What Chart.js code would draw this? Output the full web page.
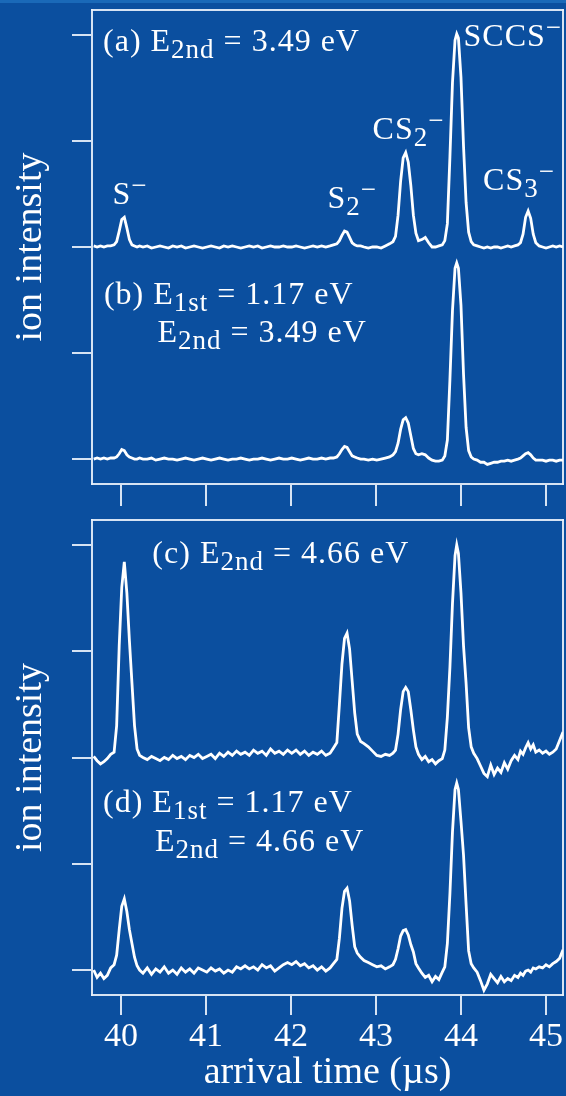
<!DOCTYPE html>
<html>
<head>
<meta charset="utf-8">
<script src="https://cdn.jsdelivr.net/npm/chart.js@4.4.0/dist/chart.umd.min.js"></script>
<style>
  html, body { margin: 0; padding: 0; }
  body { width: 566px; height: 1096px; background: #0b4f9f; position: relative; overflow: hidden; }
  #strip { position: absolute; left: 0; top: 0; width: 566px; height: 3px; background: #1a69b8; }
  canvas { position: absolute; left: 0; }
  #topPanel { top: 0; }
  #bottomPanel { top: 510px; }
</style>
</head>
<body>
<div id="strip"></div>
<canvas id="topPanel" width="566" height="512"></canvas>
<canvas id="bottomPanel" width="566" height="586"></canvas>
<script>
// arrival time grid (µs), denser around the peaks
const arrivalTime = [
  39.68, 39.72, 39.76, 39.80, 39.84, 39.88,
  39.92, 39.95, 39.98, 40.01, 40.04, 40.07, 40.10, 40.13, 40.16, 40.19, 40.22,
  40.26, 40.31, 40.36, 40.41, 40.46, 40.51, 40.56, 40.61, 40.66, 40.71, 40.76, 40.81, 40.86, 40.91, 40.96,
  41.01, 41.06, 41.11, 41.16, 41.21, 41.26, 41.31, 41.36, 41.41, 41.46, 41.51, 41.56, 41.61, 41.66, 41.71, 41.76, 41.81, 41.86, 41.91, 41.96,
  42.01, 42.06, 42.11, 42.16, 42.21, 42.26, 42.31, 42.36, 42.41, 42.46, 42.50,
  42.54, 42.57, 42.60, 42.63, 42.66, 42.69, 42.72, 42.75, 42.78, 42.82, 42.86, 42.91, 42.96, 43.01, 43.06, 43.11, 43.16, 43.20,
  43.23, 43.26, 43.29, 43.32, 43.35, 43.38, 43.41, 43.44, 43.47, 43.50,
  43.54, 43.58, 43.62, 43.66, 43.70, 43.74, 43.78, 43.81,
  43.84, 43.87, 43.90, 43.93, 43.95, 43.97, 44.00, 44.03, 44.06, 44.09, 44.12, 44.15,
  44.19, 44.23, 44.27, 44.31, 44.35, 44.39, 44.43, 44.47, 44.51, 44.55, 44.59, 44.63, 44.67,
  44.70, 44.73, 44.76, 44.79, 44.82, 44.85, 44.88, 44.92,
  44.96, 45.00, 45.04, 45.08, 45.12, 45.16, 45.20
]

// (a) E2nd = 3.49 eV
const ionA = [
  0.01, 0.00, 0.01, 0.00, 0.01, 0.01,
  0.02, 0.05, 0.15, 0.26, 0.28, 0.18, 0.07, 0.02, 0.01, 0.00, 0.01,
  0.00, 0.01, -0.01, 0.00, 0.01, 0.00, -0.01, 0.01, 0.00, 0.01, -0.01, 0.00, 0.01, 0.00, -0.01,
  0.00, 0.01, 0.00, -0.01, 0.01, 0.00, 0.01, 0.00, -0.01, 0.00, 0.01, 0.00, 0.01, -0.01, 0.00, 0.01, 0.00, 0.00, 0.01, 0.00,
  0.00, 0.01, 0.00, -0.01, 0.00, 0.01, 0.00, 0.01, 0.00, 0.01, 0.02,
  0.03, 0.06, 0.11, 0.15, 0.14, 0.09, 0.04, 0.02, 0.01, 0.01, 0.00, -0.01, 0.00, 0.00, -0.01, 0.01, 0.03, 0.05,
  0.10, 0.30, 0.62, 0.84, 0.89, 0.80, 0.58, 0.30, 0.13, 0.06,
  0.07, 0.09, 0.04, 0.00, 0.00, 0.01, 0.02, 0.06,
  0.22, 0.85, 1.55, 1.95, 2.01, 1.97, 1.60, 0.95, 0.42, 0.14, 0.05, 0.02,
  0.01, 0.00, -0.01, 0.00, -0.01, 0.00, 0.00, -0.01, 0.00, 0.01, 0.00, 0.01, 0.02,
  0.04, 0.12, 0.28, 0.34, 0.27, 0.12, 0.04, 0.01,
  0.00, -0.01, 0.00, 0.01, 0.00, 0.01, 0.00
]

// (b) E1st = 1.17 eV, E2nd = 3.49 eV
const ionB = [
  0.00, 0.01, 0.00, 0.01, 0.00, 0.01,
  0.01, 0.02, 0.05, 0.09, 0.08, 0.04, 0.02, 0.01, 0.00, 0.00, 0.01,
  0.00, 0.00, 0.01, -0.01, 0.00, 0.01, 0.00, 0.00, -0.01, 0.00, 0.01, 0.00, -0.01, 0.00, 0.01,
  0.00, -0.01, 0.00, 0.01, 0.00, -0.01, 0.00, 0.00, 0.01, 0.00, -0.01, 0.00, 0.00, 0.01, 0.00, -0.01, 0.00, 0.01, 0.00, 0.00,
  0.01, 0.00, -0.01, 0.00, 0.01, 0.00, 0.00, 0.01, 0.00, 0.01, 0.01,
  0.02, 0.05, 0.09, 0.12, 0.11, 0.07, 0.03, 0.02, 0.01, 0.00, 0.00, -0.01, 0.00, -0.01, 0.00, 0.01, 0.02, 0.04,
  0.07, 0.15, 0.28, 0.37, 0.39, 0.34, 0.22, 0.10, 0.05, 0.04,
  0.05, 0.04, 0.01, -0.01, -0.02, -0.02, -0.01, 0.03,
  0.18, 0.75, 1.40, 1.80, 1.85, 1.80, 1.45, 0.80, 0.30, 0.08, 0.02, 0.00,
  -0.01, -0.03, -0.03, -0.05, -0.04, -0.03, -0.03, -0.02, -0.02, -0.01, -0.02, -0.01, 0.00,
  0.01, 0.03, 0.05, 0.06, 0.04, 0.01, -0.01, -0.01,
  -0.01, -0.02, -0.01, -0.01, -0.02, -0.01, -0.01
]

// (c) E2nd = 4.66 eV
const ionC = [
  0.01, -0.03, -0.06, -0.04, -0.01, 0.03,
  0.05, 0.30, 1.05, 1.60, 1.84, 1.55, 1.10, 0.70, 0.30, 0.08, 0.02,
  0.00, -0.02, 0.01, -0.01, -0.03, 0.00, -0.02, 0.02, -0.01, 0.01, -0.02, 0.02, 0.00, 0.03, -0.01,
  0.01, 0.03, -0.01, 0.04, 0.01, 0.05, 0.02, 0.06, 0.03, 0.05, 0.02, 0.07, 0.04, 0.06, 0.02, 0.08, 0.04, 0.06, 0.03, 0.07,
  0.04, 0.07, 0.03, 0.06, 0.02, 0.05, 0.03, 0.06, 0.02, 0.04, 0.09,
  0.14, 0.50, 0.88, 1.12, 1.17, 1.02, 0.72, 0.42, 0.22, 0.15, 0.13, 0.10, 0.06, 0.02, 0.01, 0.03, 0.02, 0.04,
  0.07, 0.22, 0.45, 0.62, 0.66, 0.62, 0.45, 0.26, 0.10, 0.03,
  -0.02, 0.01, -0.04, -0.02, -0.06, -0.03, -0.01, 0.07,
  0.38, 0.85, 1.45, 1.90, 2.00, 1.92, 1.55, 1.05, 0.70, 0.28, 0.10, 0.04,
  -0.01, -0.08, -0.15, -0.18, -0.07, -0.16, -0.10, -0.14, -0.05, -0.11, -0.03, 0.02, -0.02,
  0.06, 0.03, 0.09, 0.14, 0.08, 0.12, 0.05, 0.07,
  0.04, 0.06, 0.03, 0.05, 0.08, 0.16, 0.24
]

// (d) E1st = 1.17 eV, E2nd = 4.66 eV
const ionD = [
  0.00, -0.07, -0.03, -0.08, -0.05, 0.02,
  0.05, 0.14, 0.38, 0.60, 0.67, 0.55, 0.38, 0.25, 0.12, 0.04, 0.00,
  -0.03, 0.02, -0.04, 0.01, -0.02, 0.03, -0.03, 0.00, -0.04, 0.02, -0.02, 0.01, -0.03, 0.02, 0.00,
  -0.02, 0.02, -0.01, 0.01, -0.03, 0.00, -0.02, 0.03, 0.01, 0.04, 0.01, 0.03, 0.00, 0.05, 0.02, 0.04, -0.01, 0.02, 0.05, 0.07,
  0.05, 0.08, 0.04, 0.06, 0.02, 0.04, 0.00, 0.03, -0.01, 0.02, 0.06,
  0.10, 0.30, 0.58, 0.74, 0.77, 0.65, 0.42, 0.22, 0.16, 0.12, 0.09, 0.07, 0.05, 0.03, 0.04, 0.01, 0.03, 0.05,
  0.10, 0.20, 0.32, 0.37, 0.38, 0.33, 0.24, 0.17, 0.06, 0.02,
  -0.03, -0.07, -0.05, -0.11, -0.06, -0.09, -0.02, 0.03,
  0.25, 0.72, 1.30, 1.70, 1.76, 1.70, 1.40, 1.08, 0.62, 0.18, 0.06, 0.02,
  -0.02, -0.10, -0.19, -0.13, -0.04, -0.08, -0.12, -0.06, -0.11, -0.08, -0.10, -0.05, -0.07,
  -0.03, -0.05, -0.01, 0.00, -0.02, 0.02, 0.01, 0.03,
  0.02, 0.05, 0.03, 0.06, 0.08, 0.11, 0.19
]

// vertical offset of the upper trace in each panel (tick units)
const upperOffset = 2

const X_MIN = 39.66, X_MAX = 45.2
const Y_MIN = -0.235, Y_MAX = 4.235

const SERIF = '"Liberation Serif", "Times New Roman", serif'
const FRAME = 'rgba(232,240,250,0.92)'

// text annotations, anchored in data units (x = left start, y = baseline)
const topNotes = [
  { x: 39.79, y: 3.85, text: '(a) E_{2nd} = 3.49 eV' },
  { x: 39.90, y: 2.41, text: 'S^−' },
  { x: 42.43, y: 2.365, text: 'S_2^−' },
  { x: 42.96, y: 3.02, text: 'CS_2^−' },
  { x: 44.03, y: 3.90, text: 'SCCS^−' },
  { x: 44.26, y: 2.535, text: 'CS_3^−' },
  { x: 39.80, y: 1.46, text: '(b) E_{1st} = 1.17 eV' },
  { x: 40.43, y: 1.10, text: 'E_{2nd} = 3.49 eV' }
]
const bottomNotes = [
  { x: 40.37, y: 3.83, text: '(c) E_{2nd} = 4.66 eV' },
  { x: 39.79, y: 1.49, text: '(d) E_{1st} = 1.17 eV' },
  { x: 40.40, y: 1.12, text: 'E_{2nd} = 4.66 eV' }
]

// split "E_{2nd}^−" style markup into main / sub / sup pieces
function parseMarkup(str) {
  const out = []
  let i = 0, buf = ''
  while (i < str.length) {
    const c = str[i]
    if (c === '_' || c === '^') {
      if (buf) { out.push({ kind: 'main', text: buf }); buf = '' }
      let piece
      if (str[i + 1] === '{') {
        const end = str.indexOf('}', i)
        piece = str.slice(i + 2, end)
        i = end + 1
      } else {
        piece = str[i + 1]
        i += 2
      }
      out.push({ kind: c === '_' ? 'sub' : 'sup', text: piece })
    } else {
      buf += c
      i++
    }
  }
  if (buf) out.push({ kind: 'main', text: buf })
  return out
}

const annotate = {
  id: 'annotate',
  afterDatasetsDraw(chart, args, opts) {
    const ctx = chart.ctx
    const xs = chart.scales.x, ys = chart.scales.y
    ctx.save()
    ctx.fillStyle = '#ffffff'
    ctx.textBaseline = 'alphabetic'
    ctx.textAlign = 'left'
    ctx.letterSpacing = '1px'
    opts.items.forEach(item => {
      let px = xs.getPixelForValue(item.x)
      const py = ys.getPixelForValue(item.y)
      parseMarkup(item.text).forEach(seg => {
        const size = seg.kind === 'main' ? 32 : 27
        ctx.font = size + 'px ' + SERIF
        const dy = seg.kind === 'sub' ? 7 : seg.kind === 'sup' ? -10 : 0
        ctx.fillText(seg.text, px, py + dy)
        px += ctx.measureText(seg.text).width
      })
    })
    ctx.restore()
  }
}

function toPoints(values, offset) {
  return arrivalTime.map((t, i) => ({ x: t, y: values[i] + offset }))
}

function trace(values, offset) {
  return {
    data: toPoints(values, offset),
    borderColor: '#ffffff',
    borderWidth: 2.8,
    pointRadius: 0,
    tension: 0,
    fill: false
  }
}

function panelOptions(showXLabels, xHeight, notes) {
  return {
    responsive: false,
    animation: false,
    layout: { padding: { top: 10, right: 3, bottom: 0, left: 0 } },
    plugins: {
      legend: { display: false },
      tooltip: { enabled: false },
      annotate: { items: notes }
    },
    scales: {
      x: {
        type: 'linear', position: 'bottom', min: X_MIN, max: X_MAX,
        ticks: {
          display: showXLabels, stepSize: 1, includeBounds: false, maxRotation: 0, autoSkip: false,
          color: '#ffffff', font: { family: SERIF, size: 34 }, padding: 2
        },
        grid: { drawOnChartArea: false, tickLength: showXLabels ? 20 : 22, color: FRAME, lineWidth: 2 },
        border: { color: FRAME, width: 2 },
        title: {
          display: showXLabels, text: 'arrival time (µs)', color: '#ffffff',
          font: { family: SERIF, size: 38 }, padding: { top: 0, bottom: 0 }
        },
        afterFit: s => { s.height = xHeight }
      },
      y: {
        type: 'linear', position: 'left', min: Y_MIN, max: Y_MAX,
        ticks: { display: false, stepSize: 1, includeBounds: false },
        grid: { drawOnChartArea: false, tickLength: 20, color: FRAME, lineWidth: 2 },
        border: { color: FRAME, width: 2 },
        title: {
          display: true, text: 'ion intensity', color: '#ffffff',
          font: { family: SERIF, size: 38 }, padding: { top: 8, bottom: 0 }
        },
        afterFit: s => { s.width = 92 }
      },
      xTop: {
        type: 'linear', position: 'top', display: true,
        ticks: { display: false }, grid: { display: false, drawTicks: false },
        border: { color: FRAME, width: 2 },
        afterFit: s => { s.height = 0 }
      },
      yRight: {
        type: 'linear', position: 'right', display: true,
        ticks: { display: false }, grid: { display: false, drawTicks: false },
        border: { color: FRAME, width: 2 },
        afterFit: s => { s.width = 0 }
      }
    }
  }
}

new Chart(document.getElementById('topPanel'), {
  type: 'line',
  data: { datasets: [trace(ionA, upperOffset), trace(ionB, 0)] },
  options: panelOptions(false, 28, topNotes),
  plugins: [annotate]
})

new Chart(document.getElementById('bottomPanel'), {
  type: 'line',
  data: { datasets: [trace(ionC, upperOffset), trace(ionD, 0)] },
  options: panelOptions(true, 101, bottomNotes),
  plugins: [annotate]
})
</script>
</body>
</html>
